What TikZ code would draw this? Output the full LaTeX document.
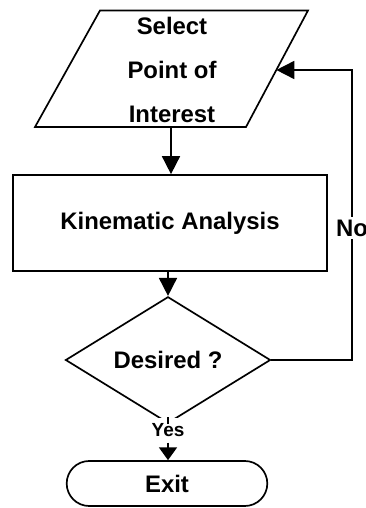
\documentclass[tikz,border=0pt]{standalone}
\usepackage{fontspec}
\setmainfont{Liberation Sans}
\usetikzlibrary{shapes.geometric,shapes.misc,arrows.meta}

\begin{document}
\begin{tikzpicture}[
        every node/.style={font=\fontsize{17}{31}\selectfont\bfseries},
        line/.style={line width=1.2pt,black},
        arr/.style={line width=1.2pt,black,-{Triangle[width=0.45cm,length=0.45cm]}},
        tag/.style={fill=white,inner xsep=1pt,inner ysep=4pt}
    ]
        \useasboundingbox (0,0) rectangle (9.15,12.7);

        % input parallelogram
        \coordinate (pbl) at (0.875,9.525);
        \coordinate (pbr) at (6.15,9.525);
        \coordinate (ptr) at (7.7,12.4375);
        \coordinate (ptl) at (2.5,12.4375);
        \draw[line] (pbl) -- (pbr) -- (ptr) -- (ptl) -- cycle;
        \coordinate (pin) at (6.908,10.95);
        \coordinate (pout) at (4.275,9.525);
        \node[align=center,inner sep=0pt] (sel) at (4.3,10.95) {Select\\Point of\\Interest};

        \node[draw,line width=1.2pt,rectangle,minimum width=7.85cm,minimum height=2.4cm]
              (ana) at (4.25,7.125) {Kinematic Analysis};
        \node[draw,line width=1.2pt,diamond,minimum width=5.125cm,minimum height=2.075cm,inner sep=0pt]
              (des) at (4.2,3.7) {Desired ?};
        \node[draw,line width=1.2pt,rounded rectangle,minimum width=5.25cm,minimum height=1.125cm]
              (ext) at (4.175,0.6125) {Exit};

        \node[tag,font=\fontsize{13.5}{16}\selectfont\bfseries] (yes) at (4.2,1.95) {Yes};
        \node[tag,inner ysep=2pt] (no) at (8.8,7.0) {No};

        \draw[arr] (pout) -- (pout |- ana.north);
        \draw[arr] (ana.south -| des.north) -- (des.north);
        \draw[line] (des.south) -- (yes);
        \draw[line,-{Triangle[width=0.45cm,length=0.32cm]}] (yes) -- (yes |- ext.north);
        \draw[line] (des.east) -| (no);
        \draw[arr] (no) |- (pin);
\end{tikzpicture}
\end{document}
